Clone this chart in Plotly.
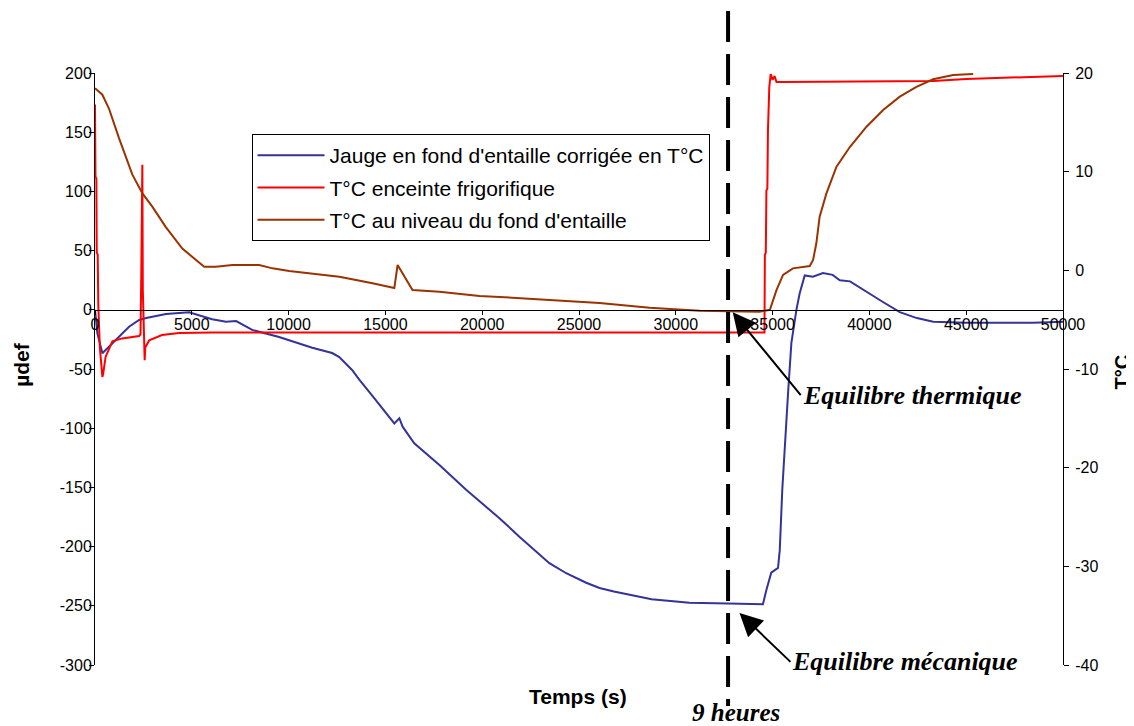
import plotly.graph_objects as go

# ---------------- data ----------------
jauge_t = [0, 120, 380, 720, 1240, 1760, 2280, 2640, 3670, 4860, 6050, 6770, 7290,
           8120, 9510, 11220, 12250, 12620, 13290, 13650, 14340, 15030, 15460, 15720,
           15890, 16490, 17790, 19170, 20200, 20890, 21920, 22600, 23470, 24340, 25370,
           26060, 26800, 28750, 30700, 32700, 34500, 34680, 34930, 35280, 35370, 35500,
           35630, 35800, 35970, 36230, 36400, 36660, 37080, 37600, 38100, 38470, 39000,
           39850, 40700, 41570, 42450, 43300, 45000, 48450, 50000]
jauge_udef = [0, -19.6, -36.7, -31, -22.7, -14.3, -8.6, -7, -3.5, -2, -8, -10, -9.5,
              -17, -23, -32, -36.5, -40, -51, -59, -73, -87, -96, -91.6,
              -98.7, -112.7, -131, -152, -166, -176, -191.6, -201.4, -214, -222.5, -230.5,
              -235, -238, -244.5, -247.4, -248, -248.7, -236.6, -222, -218, -203, -152,
              -112.5, -70, -28, 0, 14, 29, 28, 31, 29.5, 25, 24,
              15, 6.6, -2, -7, -10, -11, -11, -10]

enceinte_t = [0, 25, 70, 90, 140, 170, 250, 380, 420, 550, 900, 1400, 2280, 2350,
              2390, 2445, 2470, 2565, 2600, 2800, 3460, 4340, 6050, 15000, 25000,
              34580, 34600, 34650, 34680, 34730, 34760, 34830, 34900, 35000, 35100,
              35200, 35500, 40000, 43300, 45000, 48000, 50000]
enceinte_T = [16.8, 9.5, 9.3, 1.8, 1.6, -3.5, -7.8, -10.8, -10.5, -8.75, -7.2, -6.9, -6.65, -6.5,
              -0.5, 10.7, -2, -9.1, -7.8, -7.1, -6.55, -6.35, -6.3, -6.3, -6.3,
              -6.3, 1.55, 1.8, 8.1, 8.3, 14.2, 18.6, 19.9, 19.3, 19.7,
              19.1, 19.1, 19.2, 19.2, 19.4, 19.6, 19.7]

fond_t = [0, 380, 720, 1240, 1930, 2450, 2960, 3650, 4510, 5200, 5640, 6240, 7100, 8480,
          9170, 10030, 12620, 14340, 15460, 15630, 15980, 16400, 17790, 18470, 19860,
          20890, 23500, 26060, 28650, 31230, 34300, 34860, 35200, 35540, 36050, 36920,
          37090, 37260, 37430, 37780, 38300, 38990, 39850, 40710, 41570, 42430, 43290,
          44330, 45360]
fond_T = [18.45, 17.8, 16.4, 13.4, 9.7, 7.8, 6.45, 4.4, 2.2, 1.05, 0.37, 0.37, 0.54, 0.54,
          0.2, -0.07, -0.64, -1.3, -1.8, 0.54, -0.64, -2.0, -2.17, -2.3, -2.6,
          -2.7, -3.0, -3.3, -3.8, -4.1, -4.2, -4.0, -2.0, -0.47, 0.2, 0.44,
          1.05, 2.74, 5.44, 7.8, 10.5, 12.5, 14.56, 16.25, 17.6, 18.6, 19.36,
          19.8, 19.9]

series_names = ["Jauge en fond d'entaille corrigée en T°C",
                "T°C enceinte frigorifique",
                "T°C au niveau du fond d'entaille"]
x_ticks = [0, 5000, 10000, 15000, 20000, 25000, 30000, 35000, 40000, 45000, 50000]
left_ticks = [-300, -250, -200, -150, -100, -50, 0, 50, 100, 150, 200]
right_ticks = [-40, -30, -20, -10, 0, 10, 20]
t_9h = 32700

SANS = "Liberation Sans, Arial, sans-serif"
SERIF = "Liberation Serif, Times New Roman, serif"

fig = go.Figure()
fig.add_trace(go.Scatter(x=jauge_t, y=jauge_udef, mode="lines", name=series_names[0],
                         line=dict(color="#333399", width=2), legendgroup="a", yaxis="y"))
fig.add_trace(go.Scatter(x=enceinte_t, y=enceinte_T, mode="lines", name=series_names[1],
                         line=dict(color="#FF0000", width=2), legendgroup="b", yaxis="y2"))
fig.add_trace(go.Scatter(x=fond_t, y=fond_T, mode="lines", name=series_names[2],
                         line=dict(color="#993300", width=2), legendgroup="c", yaxis="y2"))

fig.update_layout(
    width=1134, height=726,
    margin=dict(l=87, r=79, t=65, b=69),
    paper_bgcolor="white", plot_bgcolor="white",
    font=dict(family=SANS, size=16, color="black"),
    showlegend=True,
    legend=dict(x=0.1617, y=0.897, xanchor="left", yanchor="top",
                bordercolor="black", borderwidth=1, bgcolor="white",
                font=dict(size=21, family=SANS), traceorder="grouped",
                tracegroupgap=2, itemwidth=67),
    xaxis=dict(range=[0, 50000], tickvals=x_ticks, ticktext=[str(v) for v in x_ticks],
               showgrid=False, zeroline=False, showline=True, linecolor="black", linewidth=1,
               ticks="outside", ticklen=4, tickcolor="black", ticklabelstandoff=-4,
               anchor="free", position=0.6),
    yaxis=dict(range=[-300, 200], tickvals=left_ticks, ticktext=[str(v) for v in left_ticks],
               showgrid=False, zeroline=False,
               showline=True, linecolor="black", linewidth=1, ticks="outside", ticklen=5,
               tickcolor="black", ticklabelstandoff=-6),
    yaxis2=dict(range=[-40, 20], tickvals=right_ticks, ticktext=[str(v) for v in right_ticks],
                overlaying="y", side="right",
                showgrid=False, zeroline=False, showline=True, linecolor="black",
                linewidth=1, ticks="outside", ticklen=5, tickcolor="black",
                ticklabelstandoff=3),
)

# dashed vertical line (9 heures)
fig.add_shape(type="line", xref="x", yref="paper", x0=t_9h, x1=t_9h, y0=1.1047, y1=-0.0693,
              line=dict(color="black", width=4, dash="31px,12px"))

# axis titles
fig.add_annotation(text="<b>Temps (s)</b>", xref="paper", yref="paper", x=0.499, y=-0.054,
                   xanchor="center", yanchor="middle",
                   showarrow=False, font=dict(family=SANS, size=21))
fig.add_annotation(text="<b>µdef</b>", xref="paper", yref="paper", x=-0.0754, y=0.507,
                   xanchor="center", yanchor="middle",
                   textangle=-90, showarrow=False, font=dict(family=SANS, size=21))
fig.add_annotation(text="<b>T°C</b>", xref="paper", yref="paper", x=1.0605, y=0.495,
                   xanchor="center", yanchor="middle",
                   textangle=-90, showarrow=False, font=dict(family=SANS, size=20))

# text annotations
fig.add_annotation(text="<b><i>9 heures</i></b>", xref="paper", yref="paper", x=0.662, y=-0.0794,
                   xanchor="center", yanchor="middle",
                   showarrow=False, font=dict(family=SERIF, size=25))
fig.add_annotation(text="<b><i>Equilibre thermique</i></b>", xref="x", yref="y", x=32940, y=-2,
                   ax=68, ay=83, axref="pixel", ayref="pixel", xanchor="left",
                   showarrow=True, arrowhead=2, arrowsize=2.3, arrowwidth=2, arrowcolor="black",
                   font=dict(family=SERIF, size=26))
fig.add_annotation(text="<b><i>Equilibre mécanique</i></b>", xref="x", yref="y", x=33290, y=-256,
                   ax=51, ay=49, axref="pixel", ayref="pixel", xanchor="left",
                   showarrow=True, arrowhead=2, arrowsize=2.3, arrowwidth=2, arrowcolor="black",
                   font=dict(family=SERIF, size=26))

fig.write_html("out.html")
